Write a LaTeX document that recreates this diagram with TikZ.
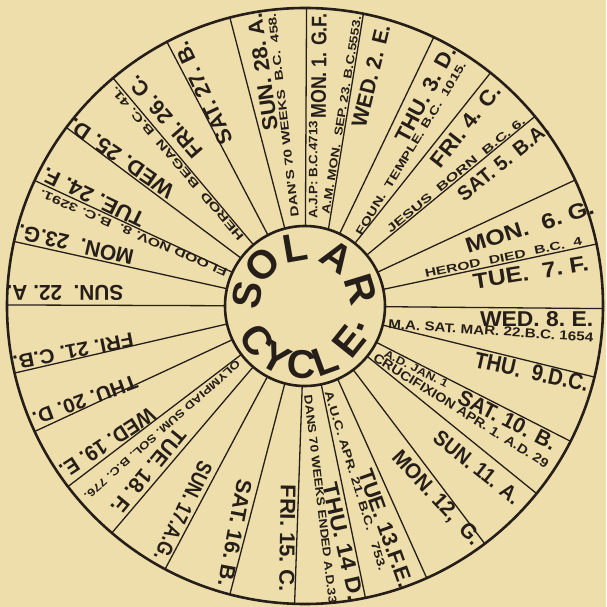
\documentclass[tikz,border=0pt]{standalone}
\usepackage{fontspec}
\setmainfont{Liberation Sans}
\usepackage{graphicx}
\definecolor{paper}{RGB}{238,222,172}
\definecolor{ink}{RGB}{38,30,24}
\newcommand\tx[3]{\raisebox{0pt}[#2pt][0pt]{\resizebox{#1pt}{#2pt}{\bfseries #3}}}
\begin{document}
\begin{tikzpicture}[x=1pt,y=1pt,
  lbl/.style={inner sep=0pt, text=ink},
  spoke/.style={draw=ink, line width=1.3pt},
  rim/.style={draw=ink, line width=2.6pt},
  big/.style={inner sep=0pt, text=ink, font=\fontsize{40}{40}\selectfont\bfseries}]
\fill[paper] (-305,-301) rectangle (301,306);
\useasboundingbox (-305,-301) rectangle (301,306);
% spokes
\foreach \a in {89.7,64.4,51.5,39.5,25,12,-0.5,-13.8,-27,-39,-52.9,-65.9,-78.3,
  -92,255.4,242,229.6,217.3,204.9,193,179.8,167.5,155.1,143.2,130.1,117.6,104.6}
  \draw[spoke] (\a:80) -- (\a:298);
\draw[spoke] (73:80) -- (78.7:298);
\draw[rim] (0,0) circle[radius=298pt];
\draw[rim] (0,0) circle[radius=80pt];
% main labels
\node[lbl,rotate=89.5] (m1) at (13.8,240.2) {\tx{105}{15}{MON. 1. G.F.}};
\node[lbl,rotate=76.2] (m2) at (65.8,230.15) {\tx{104.7}{15}{WED. 2. E.}};
\node[lbl,rotate=61.8] (m3) at (120.5,212.2) {\tx{105.9}{15}{THU. 3. D.}};
\node[lbl,rotate=51.8] (m4) at (160.5,180.15) {\tx{99.6}{15}{FRI. 4. C.}};
\node[lbl,rotate=38.9] (m5) at (198,144.3) {\tx{111.4}{14}{SAT. 5. B.A.}};
\node[lbl,rotate=17.4] (m6) at (224.65,79.3) {\tx{133.4}{15}{MON.\ \ 6.\ G.}};
\node[lbl,rotate=9.1] (m7) at (225.8,33.5) {\tx{116.5}{15}{TUE.\ \ 7.\ F.}};
\node[lbl,rotate=0] (m8) at (231.65,-13.3) {\tx{113.3}{15}{WED.\ 8.\ E.}};
\node[lbl,rotate=-12.4] (m9) at (226.65,-65.8) {\tx{116}{16}{THU.\ \ 9.D.C.}};
\node[lbl,rotate=-27] (m10) at (202.4,-113.8) {\tx{107.5}{15}{SAT. 10. B.}};
\node[lbl,rotate=-38.5] (m11) at (172.15,-161.2) {\tx{104.4}{15}{SUN.\ 11. A.}};
\node[lbl,rotate=-47.2] (m12) at (132.15,-191.15) {\tx{120.3}{15}{MON. 12,\ \ G.}};
\node[lbl,rotate=-70.3] (m13) at (80.85,-222.35) {\tx{123.9}{15}{TUE.\ 13.F.E.}};
\node[lbl,rotate=-77.1] (m14) at (38.35,-235.65) {\tx{119.7}{15}{THU.\ 14\ D.}};
\node[lbl,rotate=269.1] (m15) at (-17.5,-232) {\tx{106.6}{15}{FRI.\ 15.\ C.}};
\node[lbl,rotate=259.4] (m16) at (-70,-227) {\tx{108.5}{15}{SAT.\ 16.\ B.}};
\node[lbl,rotate=244.2] (m17) at (-121.65,-205.35) {\tx{107.4}{15}{SUN. 17.A.G.}};
\node[lbl,rotate=230.5] (m18) at (-156.6,-165.7) {\tx{104.7}{15}{TUE. 18.\ F.}};
\node[lbl,rotate=213.2] (m19) at (-197.5,-137) {\tx{109.5}{15}{WED. 19.\ E.}};
\node[lbl,rotate=200.4] (m20) at (-220,-94.5) {\tx{110.3}{14}{THU. 20.\ D.}};
\node[lbl,rotate=191] (m21) at (-231.7,-45.35) {\tx{122.2}{14}{FRI.\ 21.\ C.B.}};
\node[lbl,rotate=180] (m22) at (-240,12.7) {\tx{116.6}{15}{SUN.\ \ 22.\ A.}};
\node[lbl,rotate=167] (m23) at (-229.2,61) {\tx{118}{15}{MON.\ \ 23.G.}};
\node[lbl,rotate=154.2] (m24) at (-211.7,108.5) {\tx{111.1}{15}{TUE.\ 24.\ F.}};
\node[lbl,rotate=145.5] (m25) at (-184.15,147.7) {\tx{123.5}{15}{WED.\ 25.\ D.}};
\node[lbl,rotate=131] (m26) at (-140.2,188.8) {\tx{101.5}{15}{FRI.\ 26.\ C.}};
\node[lbl,rotate=115] (m27) at (-101.65,212.7) {\tx{110.4}{15}{SAT.\ 27.\ B.}};
\node[lbl,rotate=98.1] (m28) at (-42.65,234) {\tx{118.5}{15}{SUN.\ 28.\ A.}};
% small notes
\node[lbl,rotate=96.5] (s28) at (-21.65,190.7) {\tx{205}{8}{DAN'S 70 WEEKS\ \ B.C.\ \ 458.}};
\node[lbl,rotate=90] (s1a) at (8,136) {\tx{98}{8.5}{A.J.P: B.C.4713}};
\node[lbl,rotate=80.8] (s1b) at (36.4,190.9) {\tx{200}{8}{A.M. MON.\ \ SEP.\ 23.\ B.C.5553.}};
\node[lbl,rotate=58.5] (s3) at (105.9,157.5) {\tx{200.4}{8}{FOUN.\ \ TEMPLE.\ B.C.\ \ 1015.}};
\node[lbl,rotate=39.2] (s4) at (150.85,131.35) {\tx{175}{8}{JESUS\ \ BORN\ \ B.C.\ 6.}};
\node[lbl,rotate=11.9] (s6) at (198.5,48.5) {\tx{160.4}{8}{HEROD\ \ DIED\ \ B.C.\ \ 4}};
\node[lbl,rotate=-3.7] (s8) at (185.8,-24.65) {\tx{205.4}{9}{M.A. SAT. MAR. 22.B.C. 1654}};
\node[lbl,rotate=-27] (s10a) at (111.3,-63.0) {\tx{70.1}{7.5}{A.D. JAN. 1}};
\node[lbl,rotate=-32.03] (s10b) at (156.15,-104.65) {\tx{204}{9}{CRUCIFIXION APR. 1. A.D. 29}};
\node[lbl,rotate=-72.9] (s13) at (50.8,-174.85) {\tx{186.6}{8}{A.U.C.\ APR.\ 21.\ B.C.\ \ \ 753.}};
\node[lbl,rotate=-83.2] (s14) at (15.5,-193.15) {\tx{209.8}{8}{DANS 70 WEEKS ENDED A.D.33}};
\node[lbl,rotate=221.5] (s18) at (-142.7,-123.9) {\tx{204}{7.5}{OLYMPIAD SUM. SOL. B.C. 776.}};
\node[lbl,rotate=156.8] (s24) at (-171.65,72.7) {\tx{203}{8}{FLOOD NOV.\ 8.\ \ B.C.\ 3291.}};
\node[lbl,rotate=130.5] (s26) at (-127.9,142.4) {\tx{198}{8}{HEROD\ \ BEGAN\ \ B.C.\ 41.}};
% centre title
\node[big,rotate=79.6] (cS) at (169.6:59) {S};
\node[big,rotate=45.7] (cO) at (135.7:59) {O};
\node[big,rotate=9.8] (cL) at (99.8:59) {L};
\node[big,rotate=-33.1] (cA) at (56.9:59) {A};
\node[big,rotate=-72.9] (cR) at (17.1:58) {R};
\node[big,rotate=-54.8] (cC1) at (215.2:59) {C};
\node[big,rotate=-29.1] (cY) at (240.9:59) {Y};
\node[big,rotate=-3] (cC2) at (267:59) {C};
\node[big,rotate=20] (cL2) at (290:58) {L};
\node[big,rotate=51.3] (cE) at (321.3:57) {E};
\node[big,rotate=68.9] (cDot) at (338.9:60) {.};
\end{tikzpicture}
\end{document}
